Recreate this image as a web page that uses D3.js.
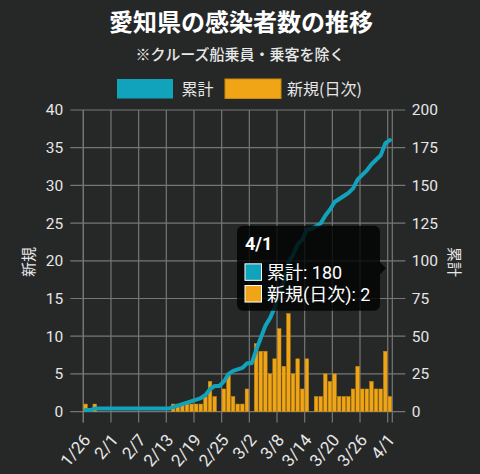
<!DOCTYPE html>
<html>
<head>
<meta charset="utf-8">
<style>
	body{ margin:0; background:#262828; }
	svg{ display:block; font-family:Roboto, "Noto Sans CJK JP", sans-serif; }
</style>
<script src="https://cdn.jsdelivr.net/npm/d3@7"></script>
</head>
<body>
<svg id="svg" width="480" height="474"></svg>
<script>

	// data
	var startDate = new Date(2020, 0, 26);
	var daily = [1,0,1,0,0,0,0,0,0,0,0,0,0,0,0,0,0,0,0,
		1,1,1,1,1,1,1,2,4,2,0,3,5,2,1,1,3,0,
		9,8,8,5,7,11,6,13,5,7,3,7,0,
		2,2,5,4,5,2,2,2,3,6,3,3,4,3,3,8,2];
	var cumulative = [1,1,2,2,2,2,2,2,2,2,2,2,2,2,2,2,2,2,2,
		3,4,5,6,7,8,9,11,15,17,17,20,25,27,28,29,32,32,
		41,49,57,62,69,80,86,99,104,111,114,121,121,
		123,125,130,134,139,141,143,145,148,154,157,160,164,167,170,178,180];
	var tickLabels = ["1/26","2/1","2/7","2/13","2/19","2/25","3/2","3/8","3/14","3/20","3/26","4/1"];
	var leftTicks = [0,5,10,15,20,25,30,35,40];
	var rightTicks = [0,25,50,75,100,125,150,175,200];
	var seriesNames = ["累計", "新規(日次)"];

	var lineColor = "#11a3bb", barColor = "#f0a516", barEdge = "#c98a0c";
	var gridColor = "#767676", textColor = "#e6e6e6";

	var days = daily.map(function(v, i){ return d3.timeDay.offset(startDate, i); });
	var tickDates = tickLabels.map(function(s){
		var p = s.split("/"); return new Date(2020, +p[0]-1, +p[1]);
	});

	var svg = d3.select("#svg");
	var plotLeft = 83.3, plotRight = 392.3, plotTop = 110, plotBottom = 411.6;

	var x = d3.scaleTime().domain([startDate, d3.timeDay.offset(days[days.length-1], 1)]).range([plotLeft, plotRight]);
	var yL = d3.scaleLinear().domain([0, 40]).range([plotBottom, plotTop]);
	var yR = d3.scaleLinear().domain([0, 200]).range([plotBottom, plotTop]);
	var step = x(days[1]) - x(days[0]);

	//Titles
	svg.append("text").attr("x", 241).attr("y", 31).attr("text-anchor", "middle")
		.style("font-family", "'Noto Sans CJK JP'").style("font-weight", 700).style("font-size", "24px")
		.style("fill", "#fff").text("愛知県の感染者数の推移");
	svg.append("text").attr("x", 240).attr("y", 60).attr("text-anchor", "middle")
		.style("font-family", "'Noto Sans CJK JP'").style("font-weight", 500).style("font-size", "15px")
		.style("fill", "#e8e8e8").text("※クルーズ船乗員・乗客を除く");

	//Legend
	var legend = svg.append("g");
	[[117, 181.5, lineColor, "none"], [225, 287, barColor, barEdge]].forEach(function(l, i){
		legend.append("rect").attr("x", l[0]).attr("y", 79).attr("width", 56).attr("height", 19.5)
			.style("fill", l[2]).style("stroke", l[3]);
		legend.append("text").attr("x", l[1]).attr("y", 94.5).style("font-size", "16px")
			.style("font-family", "'Noto Sans CJK JP'").style("fill", textColor).text(seriesNames[i]);
	});

	//Grid
	var grid = svg.append("g");
	grid.selectAll("line.h").data(leftTicks).enter().append("line")
		.attr("x1", plotLeft - 13).attr("x2", plotRight + 13)
		.attr("y1", function(d){ return yL(d); }).attr("y2", function(d){ return yL(d); })
		.style("stroke", gridColor).style("stroke-width", 1.2);
	grid.selectAll("line.v").data(tickDates.concat([x.domain()[0], x.domain()[1]])).enter().append("line")
		.attr("x1", function(d){ return x(d); }).attr("x2", function(d){ return x(d); })
		.attr("y1", plotTop).attr("y2", plotBottom + 11)
		.style("stroke", gridColor).style("stroke-width", 1.2);

	//Axes
	var axL = svg.append("g").attr("transform", "translate(" + plotLeft + ",0)")
		.call(d3.axisLeft(yL).tickValues(leftTicks).tickSize(13).tickPadding(7));
	var axR = svg.append("g").attr("transform", "translate(" + plotRight + ",0)")
		.call(d3.axisRight(yR).tickValues(rightTicks).tickSize(13).tickPadding(6.5));
	var axB = svg.append("g").attr("transform", "translate(0," + plotBottom + ")")
		.call(d3.axisBottom(x).tickValues(tickDates).tickSize(11).tickFormat(function(d, i){ return tickLabels[i]; }));
	[axL, axR, axB].forEach(function(a){
		a.select(".domain").remove();
		a.selectAll("line").remove();
		a.selectAll("text").style("fill", textColor).style("font-size", "15.5px")
			.style("font-family", "Roboto, 'Noto Sans CJK JP'");
	});
	axB.selectAll("text").style("font-size", "17px")
		.attr("y", 0).attr("dy", "0.35em").attr("text-anchor", "end")
		.attr("transform", "translate(3,25) rotate(-50)");

	//Axis titles
	svg.append("text").attr("transform", "translate(34,262) rotate(-90)").attr("text-anchor", "middle")
		.style("font-family", "'Noto Sans CJK JP'").style("font-size", "15px").style("fill", textColor).text("新規");
	svg.append("text").attr("transform", "translate(449,262) rotate(90)").attr("text-anchor", "middle")
		.style("font-family", "'Noto Sans CJK JP'").style("font-size", "15px").style("fill", textColor).text("累計");

	//Bars
	svg.append("g").selectAll("rect").data(daily).enter().append("rect")
		.attr("x", function(d, i){ return x(days[i]) + 0.4; })
		.attr("width", step * 0.78)
		.attr("y", function(d){ return yL(d); })
		.attr("height", function(d){ return plotBottom - yL(d); })
		.style("fill", barColor).style("stroke", barEdge).style("stroke-width", 0.5);

	//Line
	var line = d3.line()
		.x(function(d, i){ return x(days[i]) + step / 2; })
		.y(function(d){ return yR(d); });
	svg.append("path").datum(cumulative).attr("d", line)
		.style("fill", "none").style("stroke", lineColor).style("stroke-width", 4)
		.style("stroke-linejoin", "round").style("stroke-linecap", "round");

	//Tooltip for the last day
	var n = daily.length - 1;
	var tipX = x(days[n]) + step / 2 - 4;
	var tipY = (yR(cumulative[n]) + yL(daily[n])) / 2;
	var tw = 143, th = 85;
	var tl = tipX - 6 - tw, tt = tipY - th / 2;
	var tip = svg.append("g");
	tip.append("rect").attr("x", tl).attr("y", tt).attr("width", tw).attr("height", th).attr("rx", 6)
		.style("fill", "rgba(0,0,0,0.8)");
	tip.append("path").attr("d", "M" + (tipX - 6) + "," + (tipY - 6) + "L" + tipX + "," + tipY + "L" + (tipX - 6) + "," + (tipY + 6) + "Z")
		.style("fill", "rgba(0,0,0,0.8)");
	tip.append("text").attr("x", tl + 8).attr("y", tt + 24).style("font-size", "18px").style("font-weight", 700)
		.style("fill", "#fff").text(tickLabels[tickLabels.length - 1]);
	[[lineColor, seriesNames[0] + ": " + cumulative[n]], [barColor, seriesNames[1] + ": " + daily[n]]].forEach(function(t, i){
		tip.append("rect").attr("x", tl + 8).attr("y", tt + 38 + i * 21.7).attr("width", 16.5).attr("height", 16.5)
			.style("fill", t[0]).style("stroke", "#fff").style("stroke-width", 1);
		tip.append("text").attr("x", tl + 30).attr("y", tt + 53 + i * 21.7).style("font-size", "18px")
			.style("fill", "#fff").text(t[1]);
	});

</script>
</body>
</html>
